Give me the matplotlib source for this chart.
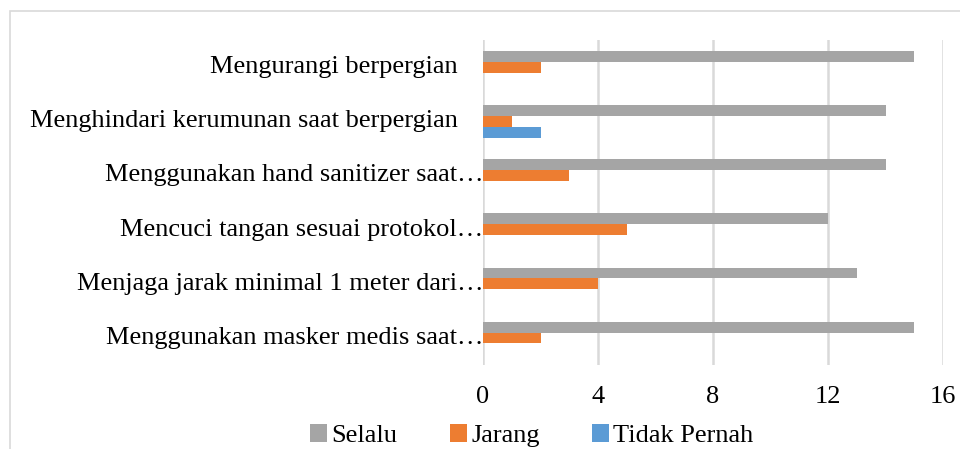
import numpy as np
import matplotlib
matplotlib.use("Agg")
import matplotlib.pyplot as plt
from matplotlib.patches import Rectangle
from matplotlib.transforms import offset_copy

plt.rcParams['font.family'] = ['Liberation Serif', 'DejaVu Serif']

# data, top to bottom as in the chart
categories = [
    "Mengurangi berpergian",
    "Menghindari kerumunan saat berpergian",
    "Menggunakan hand sanitizer saat\u2026",
    "Mencuci tangan sesuai protokol\u2026",
    "Menjaga jarak minimal 1 meter dari\u2026",
    "Menggunakan masker medis saat\u2026",
]
truncated = [False, False, True, True, True, True]
selalu = [15, 14, 14, 12, 13, 15]
jarang = [2, 1, 3, 5, 4, 2]
tidak_pernah = [0, 2, 0, 0, 0, 0]

series = [("Selalu", selalu, "#A5A5A5"),
          ("Jarang", jarang, "#ED7D31"),
          ("Tidak Pernah", tidak_pernah, "#5B9BD5")]

fs = 19

fig = plt.figure(figsize=(9.6, 4.49), dpi=100)
ax = fig.add_axes([483 / 960, 1 - 365 / 449, 460 / 960, 325 / 449])

y = np.arange(len(categories))
h = 0.2
for i, (name, vals, col) in enumerate(series):
    ax.barh(y + (i - 1) * h, vals, height=h, color=col, label=name, zorder=3)

ax.set_ylim(len(categories) - 0.5, -0.5)
ax.set_xlim(0, 16)
ax.set_xticks([0, 4, 8, 12, 16])
ax.xaxis.grid(True, color="#D9D9D9", linewidth=1.8, zorder=0)
ax.tick_params(axis="x", length=0, pad=15, labelsize=fs)
ax.tick_params(axis="y", length=0, labelleft=False)
ax.set_yticks(y)
for s in ax.spines.values():
    s.set_visible(False)

# category labels, full ones end a bit left of the axis
for yi, lab, tr in zip(y, categories, truncated):
    dx = 0 if tr else -25
    t = offset_copy(ax.get_yaxis_transform(), fig=fig, x=dx, y=0, units="dots")
    ax.text(0, yi, lab, transform=t, ha="right", va="center", fontsize=fs)

fig.legend(loc="center", bbox_to_anchor=(0.554, 0.03), ncol=3, frameon=False,
           fontsize=fs, handlelength=0.65, handleheight=0.65, handletextpad=0.15,
           columnspacing=2.0, borderpad=0.1)

fig.patches.append(Rectangle((10 / 960, -0.1), 1.2, 1.1 - 11 / 449,
                             transform=fig.transFigure, fill=False,
                             edgecolor="#D9D9D9", linewidth=1.2))

plt.savefig("out.png", dpi=100)
